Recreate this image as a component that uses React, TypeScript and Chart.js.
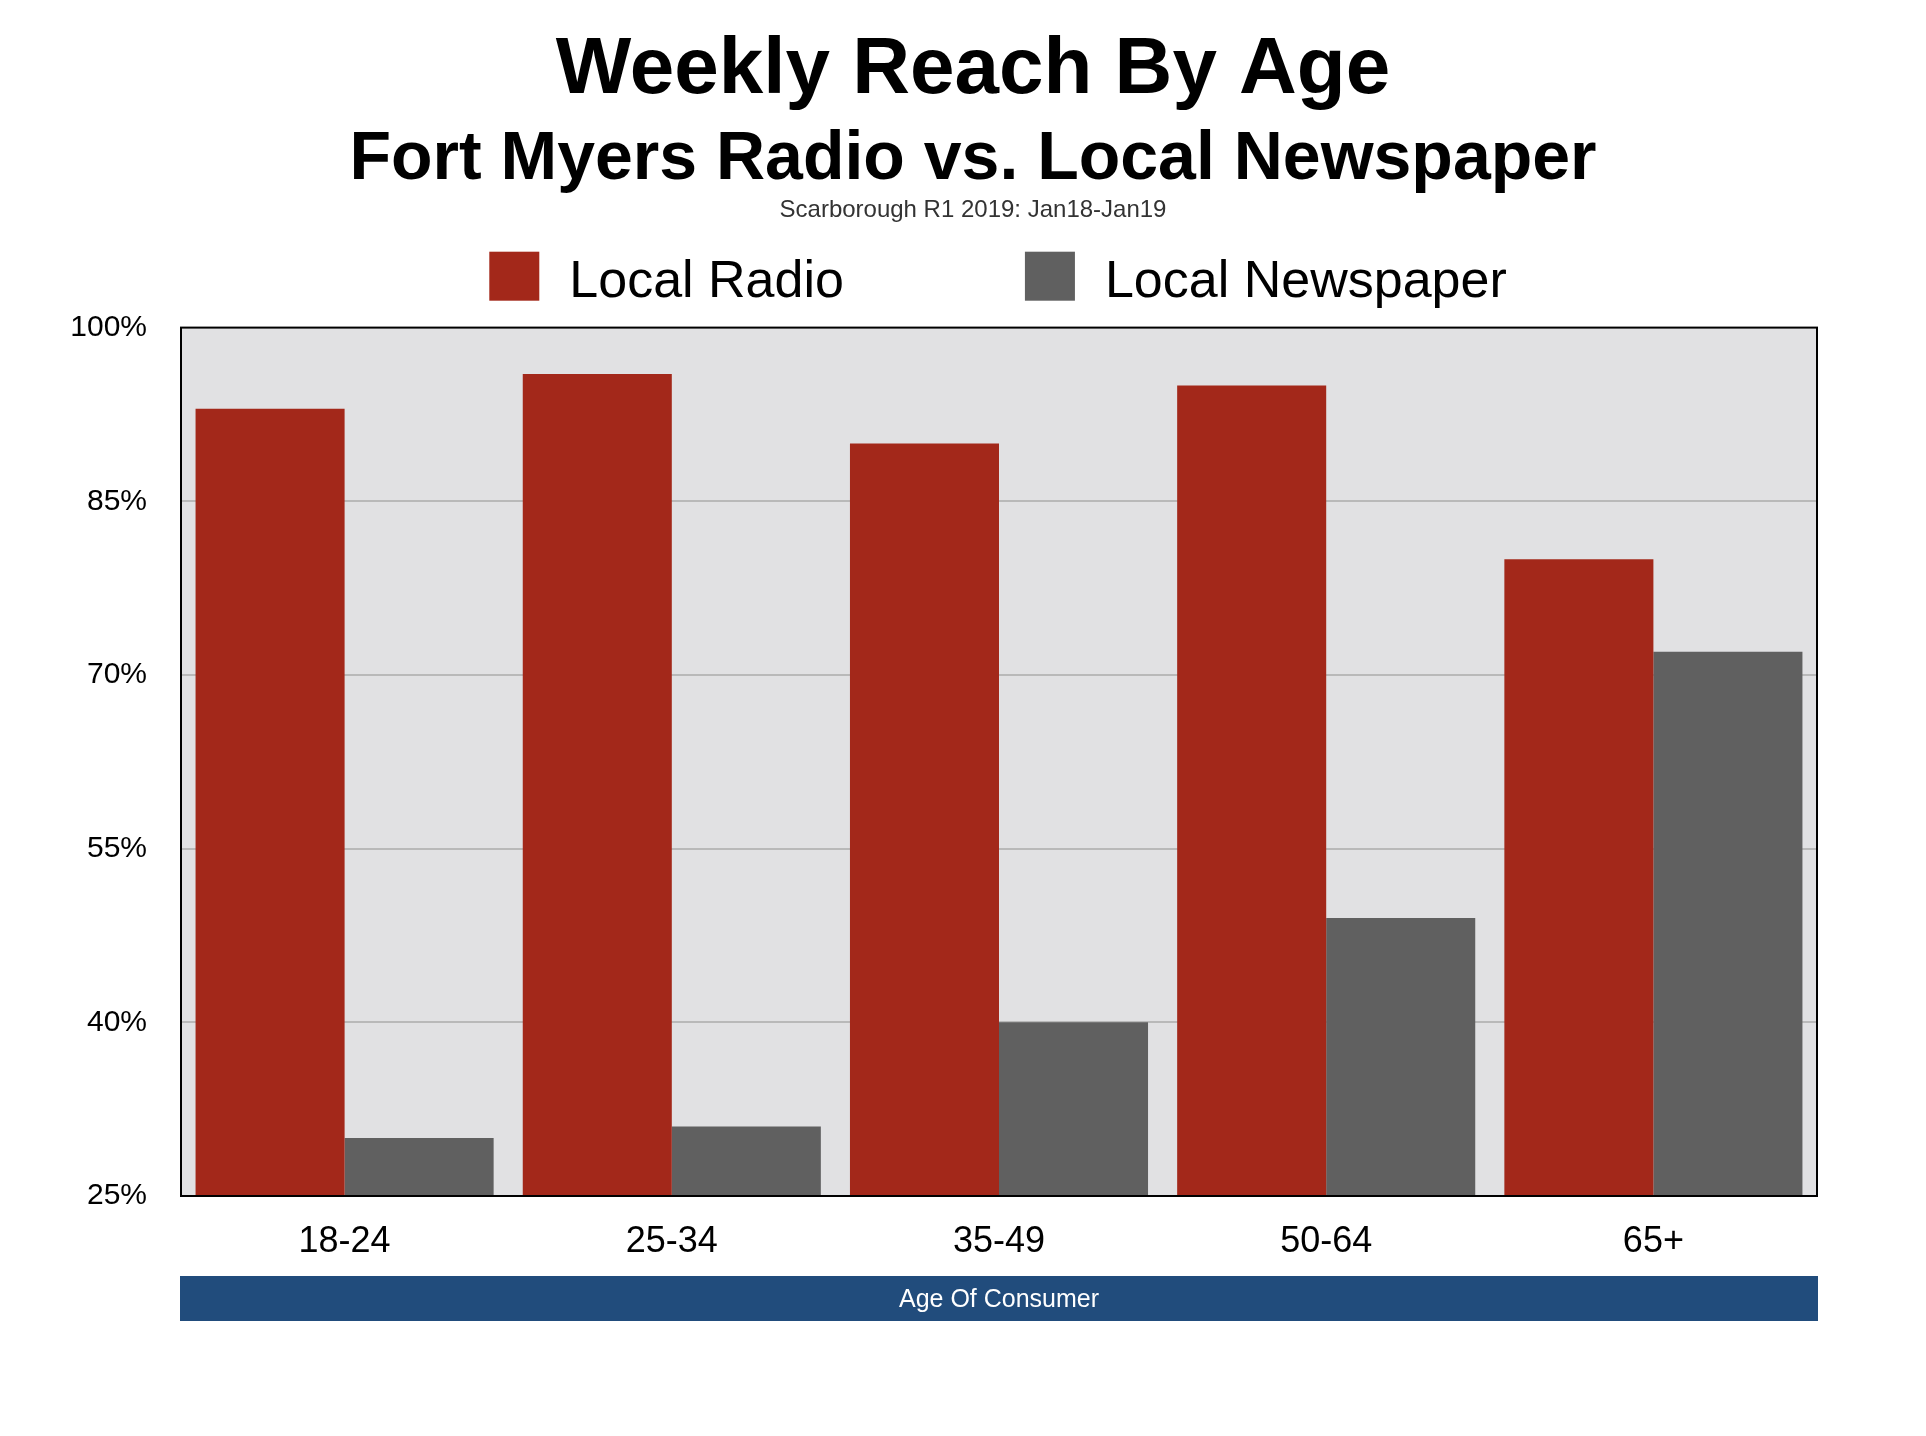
import React, { useEffect, useRef } from 'react';
import { Chart, registerables } from 'chart.js';

Chart.register(...registerables);

const categories = ['18-24', '25-34', '35-49', '50-64', '65+'];
const radioValues = [93, 96, 90, 95, 80];
const newspaperValues = [30, 31, 40, 49, 72];
const seriesNames = ['Local Radio', 'Local Newspaper'];
const seriesColors = ['#a3281a', '#606060'];
const yMin = 25;
const yMax = 100;
const yStep = 15;
const titleText = 'Weekly Reach By Age';
const subtitleText = 'Fort Myers Radio vs. Local Newspaper';
const sourceText = 'Scarborough R1 2019: Jan18-Jan19';
const xAxisTitle = 'Age Of Consumer';

const FONT = '"Liberation Sans", Arial, Helvetica, sans-serif';

const decorPlugin = {
  id: 'decor',
  beforeDraw(chart: any) {
    const { ctx, chartArea: a } = chart;
    ctx.save();
    ctx.fillStyle = '#e1e1e3';
    ctx.fillRect(a.left, a.top, a.right - a.left, a.bottom - a.top);
    ctx.fillStyle = '#214c7c';
    ctx.fillRect(a.left - 1, a.bottom + 80, a.right - a.left + 2, 45);
    ctx.restore();
  },
  afterDatasetsDraw(chart: any) {
    const { ctx, chartArea: a } = chart;
    ctx.save();
    ctx.strokeStyle = '#000';
    ctx.lineWidth = 2;
    ctx.strokeRect(a.left, a.top, a.right - a.left, a.bottom - a.top);
    ctx.restore();
  },
  afterDraw(chart: any) {
    const { ctx, chartArea: a } = chart;
    ctx.save();
    // source line
    ctx.font = `24px ${FONT}`;
    ctx.fillStyle = '#333';
    ctx.textAlign = 'center';
    ctx.textBaseline = 'alphabetic';
    ctx.fillText(sourceText, (20 + chart.width) / 2, 217);
    // legend
    ctx.font = `52px ${FONT}`;
    ctx.textAlign = 'left';
    const boxW = 50;
    const boxH = 49;
    const textGap = 30;
    const itemGap = 181;
    const items = chart.data.datasets.map((ds: any) => ({
      label: ds.label as string,
      color: ds.backgroundColor as string,
      w: ctx.measureText(ds.label).width,
    }));
    let total = 0;
    items.forEach((it: any, i: number) => {
      total += boxW + textGap + it.w + (i > 0 ? itemGap : 0);
    });
    let x = (a.left + a.right) / 2 - 1 - total / 2;
    items.forEach((it: any) => {
      ctx.fillStyle = it.color;
      ctx.fillRect(x, 251.7, boxW, boxH);
      ctx.fillStyle = '#000';
      ctx.fillText(it.label, x + boxW + textGap, 296.7);
      x += boxW + textGap + it.w + itemGap;
    });
    ctx.restore();
  },
};

export default function App() {
  const ref = useRef<HTMLCanvasElement>(null);

  useEffect(() => {
    if (!ref.current) return;
    Chart.defaults.font.family = FONT;
    const chart = new Chart(ref.current, {
      type: 'bar',
      data: {
        labels: categories,
        datasets: [
          {
            label: seriesNames[0],
            data: radioValues,
            backgroundColor: seriesColors[0],
            borderWidth: 0,
            categoryPercentage: 0.911,
            barPercentage: 1,
          },
          {
            label: seriesNames[1],
            data: newspaperValues,
            backgroundColor: seriesColors[1],
            borderWidth: 0,
            categoryPercentage: 0.911,
            barPercentage: 1,
          },
        ],
      },
      options: {
        animation: false,
        responsive: true,
        maintainAspectRatio: false,
        layout: { padding: { left: 20, right: 0, top: 0, bottom: 0 } },
        plugins: {
          legend: { display: false },
          tooltip: { enabled: false },
          title: {
            display: true,
            text: titleText,
            color: '#000',
            font: { family: FONT, size: 80, weight: 'bold' },
            padding: { top: 23, bottom: 0 },
          },
          subtitle: {
            display: true,
            text: subtitleText,
            color: '#000',
            font: { family: FONT, size: 68, weight: 'bold' },
            padding: { top: 0, bottom: 127 },
          },
        },
        scales: {
          x: {
            type: 'category',
            grid: { display: false },
            border: { display: false },
            ticks: { color: '#000', font: { family: FONT, size: 36 }, padding: 16 },
            title: {
              display: true,
              text: xAxisTitle,
              color: '#fff',
              font: { family: FONT, size: 25 },
              padding: { top: 0, bottom: 120.5 },
            },
            afterFit: (s: any) => {
              s.height = 240;
            },
          },
          y: {
            type: 'linear',
            min: yMin,
            max: yMax,
            border: { display: false },
            grid: {
              drawTicks: false,
              lineWidth: 2,
              color: (c: any) =>
                c.tick && (c.tick.value === yMin || c.tick.value === yMax) ? 'rgba(0,0,0,0)' : '#b9b9b9',
            },
            ticks: {
              stepSize: yStep,
              color: '#000',
              font: { family: FONT, size: 30 },
              padding: 34,
              callback: (v: any) => `${v}%`,
            },
            afterFit: (s: any) => {
              s.width = 161;
            },
          },
          yR: {
            type: 'linear',
            position: 'right',
            display: true,
            grid: { display: false },
            border: { display: false },
            ticks: { display: false },
            afterFit: (s: any) => {
              s.width = 109;
            },
          },
        },
      } as any,
      plugins: [decorPlugin as any],
    });
    return () => chart.destroy();
  }, []);

  return (
    <div style={{ position: 'fixed', left: 0, top: 0, width: '1926px', height: '1436px', background: '#fff' }}>
      <canvas ref={ref} />
    </div>
  );
}
